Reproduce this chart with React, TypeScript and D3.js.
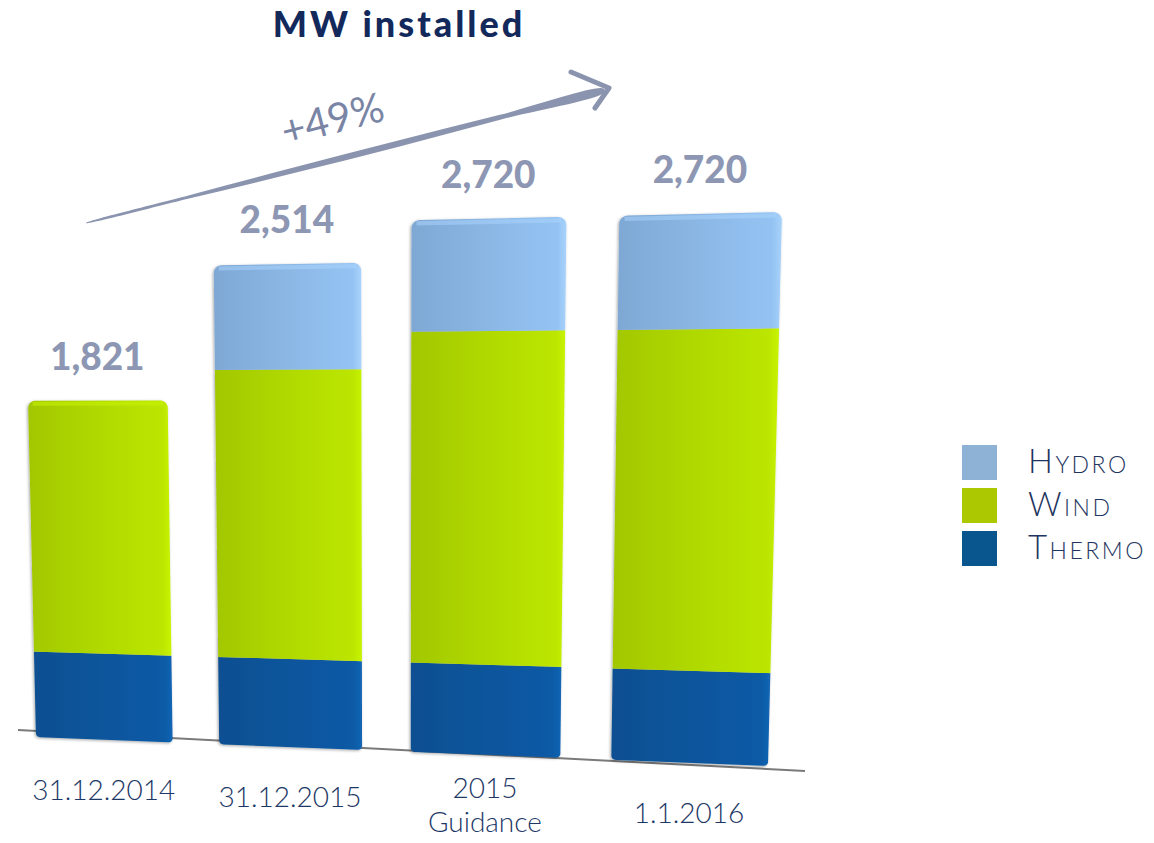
import { useEffect, useRef } from 'react'
import * as d3 from 'd3'

// data (MW installed)
const categories = ['31.12.2014', '31.12.2015', '2015 Guidance', '1.1.2016']
const seriesNames = ['Thermo', 'Wind', 'Hydro']
const thermo = [470, 470, 470, 470]
const wind = [1351, 1508, 1695, 1695]
const hydro = [0, 536, 555, 555]
const growthLabel = '+49%'

const colors: Record<string, string[]> = {
  // edge dark, left, mid, right, highlight
  Thermo: ['#063766', '#0b4f91', '#0b559c', '#0a5aa6', '#1467b5'],
  Wind: ['#6f8a00', '#a2c700', '#b0d900', '#bce600', '#c8f400'],
  Hydro: ['#5d82ad', '#7ea7d4', '#8bb7e5', '#94c3f3', '#a9d3fb'],
}
const legendColors: Record<string, string> = {
  Hydro: '#8db2d6',
  Wind: '#abc800',
  Thermo: '#09568f',
}

// solve a projective transform from 4 point pairs
function homography(src: number[][], dst: number[][]) {
  const A: number[][] = []
  const b: number[] = []
  for (let i = 0; i < 4; i++) {
    const [x, y] = src[i]
    const [X, Y] = dst[i]
    A.push([x, y, 1, 0, 0, 0, -x * X, -y * X]); b.push(X)
    A.push([0, 0, 0, x, y, 1, -x * Y, -y * Y]); b.push(Y)
  }
  const n = 8
  for (let c = 0; c < n; c++) {
    let p = c
    for (let r = c + 1; r < n; r++) if (Math.abs(A[r][c]) > Math.abs(A[p][c])) p = r
    const tA = A[c]; A[c] = A[p]; A[p] = tA
    const tb = b[c]; b[c] = b[p]; b[p] = tb
    for (let r = c + 1; r < n; r++) {
      const f = A[r][c] / A[c][c]
      for (let k = c; k < n; k++) A[r][k] -= f * A[c][k]
      b[r] -= f * b[c]
    }
  }
  const h = new Array(n).fill(0)
  for (let r = n - 1; r >= 0; r--) {
    let s = b[r]
    for (let k = r + 1; k < n; k++) s -= A[r][k] * h[k]
    h[r] = s / A[r][r]
  }
  return (x: number, y: number): [number, number] => {
    const w = h[6] * x + h[7] * y + 1
    return [(h[0] * x + h[1] * y + h[2]) / w, (h[3] * x + h[4] * y + h[5]) / w]
  }
}

export default function App() {
  const svgRef = useRef<SVGSVGElement>(null)

  useEffect(() => {
    if (!svgRef.current) return
    const width = 1154
    const height = 843

    const svg = d3.select(svgRef.current)
    svg.selectAll('*').remove()
    svg.attr('width', width).attr('height', height)

    const rows = categories.map((c, i) => ({ cat: c, Thermo: thermo[i], Wind: wind[i], Hydro: hydro[i] }))
    const stacked = d3.stack<any>().keys(seriesNames)(rows)
    const totals = rows.map(r => r.Thermo + r.Wind + r.Hydro)

    // flat chart plane in unit coordinates
    const x = d3.scaleBand().domain(categories).range([0, 1]).paddingInner(0.25).paddingOuter(0)
    const y = d3.scaleLinear().domain([0, d3.max(totals)!]).range([0, 1])

    // perspective of the plane on the page
    const project = homography(
      [[0, 0], [1, 0], [1, 1], [0, 1]],
      [[36, 737], [768, 766], [782, 212], [24, 229]],
    )
    const line = d3.line()

    const defs = svg.append('defs')
    seriesNames.forEach(s => {
      const c = colors[s]
      const g = defs.append('linearGradient').attr('id', `grad-${s}`)
        .attr('x1', 0).attr('x2', 1).attr('y1', 0).attr('y2', 0)
      const stops: [number, string][] = [[0, c[0]], [0.035, c[1]], [0.5, c[2]], [0.9, c[3]], [0.955, c[4]], [1, c[0]]]
      stops.forEach(([o, col]) => g.append('stop').attr('offset', o).attr('stop-color', col))
    })
    const shadow = defs.append('filter').attr('id', 'barShadow')
      .attr('x', '-10%').attr('y', '-10%').attr('width', '120%').attr('height', '120%')
    shadow.append('feDropShadow').attr('dx', -1).attr('dy', 1).attr('stdDeviation', 1.8)
      .attr('flood-color', '#000').attr('flood-opacity', 0.35)

    // baseline
    svg.append('line')
      .attr('x1', 18).attr('y1', 730).attr('x2', 805).attr('y2', 771)
      .attr('stroke', '#7a7a7a').attr('stroke-width', 2)

    // bars
    const rx = 0.011
    const ry = 0.014
    const rb = 0.006
    categories.forEach((cat, i) => {
      const x0 = x(cat)!
      const x1 = x0 + x.bandwidth()
      const top = y(totals[i])
      const pts: [number, number][] = []
      const arc = (cx: number, cy: number, ax: number, ay: number, a0: number, a1: number) => {
        for (let k = 0; k <= 8; k++) {
          const a = a0 + (a1 - a0) * k / 8
          pts.push(project(cx + ax * Math.cos(a), cy + ay * Math.sin(a)))
        }
      }
      arc(x0 + rb, rb * 1.3, rb, rb * 1.3, Math.PI, Math.PI * 1.5)
      arc(x1 - rb, rb * 1.3, rb, rb * 1.3, Math.PI * 1.5, Math.PI * 2)
      arc(x1 - rx, top - ry, rx, ry, 0, Math.PI / 2)
      arc(x0 + rx, top - ry, rx, ry, Math.PI / 2, Math.PI)
      const outline = line(pts) + 'Z'

      defs.append('clipPath').attr('id', `clip-${i}`).append('path').attr('d', outline)

      const bar = svg.append('g').attr('filter', 'url(#barShadow)')
      const inner = bar.append('g').attr('clip-path', `url(#clip-${i})`)
      stacked.forEach(layer => {
        const [v0, v1] = layer[i]
        if (v1 - v0 <= 0) return
        const quad = [
          project(x0 - 0.01, y(v0) - (v0 === 0 ? 0.01 : 0)),
          project(x1 + 0.01, y(v0) - (v0 === 0 ? 0.01 : 0)),
          project(x1 + 0.01, y(v1) + (v1 === totals[i] ? 0.01 : 0)),
          project(x0 - 0.01, y(v1) + (v1 === totals[i] ? 0.01 : 0)),
        ] as [number, number][]
        inner.append('path')
          .attr('d', line(quad) + 'Z')
          .attr('fill', `url(#grad-${layer.key})`)
      })
      // light bevel along the top
      const topKey = hydro[i] > 0 ? 'Hydro' : 'Wind'
      const bevel = [
        project(x0 + rx * 0.6, top - ry * 0.15),
        project(x1 - rx * 0.6, top - ry * 0.15),
        project(x1 - rx * 0.6, top - ry * 0.7),
        project(x0 + rx * 0.6, top - ry * 0.7),
      ] as [number, number][]
      inner.append('path').attr('d', line(bevel) + 'Z')
        .attr('fill', colors[topKey][4]).attr('opacity', 0.55)

      // value label above bar
      const [lx, ly] = project(x0 + x.bandwidth() / 2, top)
      svg.append('text')
        .attr('x', lx).attr('y', ly - 31)
        .attr('text-anchor', 'middle')
        .attr('font-family', 'Lato, sans-serif')
        .attr('font-weight', 900)
        .attr('font-size', 37)
        .attr('fill', '#8d97b3')
        .text(d3.format(',')(totals[i]))

      // category label below the baseline
      const [cx, cy] = project(x0 + x.bandwidth() / 2, 0)
      const lines = cat.split(' ')
      const lh = 34
      lines.forEach((t, k) => {
        svg.append('text')
          .attr('x', cx).attr('y', cy + 60 + (k - (lines.length - 1) / 2) * lh)
          .attr('text-anchor', 'middle')
          .attr('font-family', 'Lato, sans-serif')
          .attr('font-weight', 300)
          .attr('font-size', 28)
          .attr('fill', '#1d3866')
          .text(t)
      })
    })

    // title
    svg.append('text')
      .attr('x', 399).attr('y', 37)
      .attr('text-anchor', 'middle')
      .attr('font-family', 'Lato, sans-serif')
      .attr('font-weight', 900)
      .attr('font-size', 36)
      .attr('letter-spacing', 3)
      .attr('fill', '#13295b')
      .text('MW installed')

    // growth arrow
    const arrow = svg.append('g').attr('fill', '#8b94ae').attr('stroke', '#8b94ae')
    const ax0 = 86, ay0 = 223, ax1 = 604, ay1 = 90
    const ang = Math.atan2(ay1 - ay0, ax1 - ax0)
    const nx = -Math.sin(ang), ny = Math.cos(ang)
    const taper = [0.2, 2, 3.4, 3.8, 3, 2.4]
    const shaft: [number, number][] = []
    taper.forEach((w, k) => {
      const t = k / (taper.length - 1)
      shaft.push([ax0 + (ax1 - ax0) * t + nx * w, ay0 + (ay1 - ay0) * t + ny * w])
    })
    for (let k = taper.length - 1; k >= 0; k--) {
      const t = k / (taper.length - 1)
      shaft.push([ax0 + (ax1 - ax0) * t - nx * taper[k] * 0.6, ay0 + (ay1 - ay0) * t - ny * taper[k] * 0.6])
    }
    arrow.append('path').attr('d', d3.line().curve(d3.curveCatmullRomClosed)(shaft)).attr('stroke', 'none')
    arrow.append('path')
      .attr('d', `M571,72 L609,88 L595,108`)
      .attr('fill', 'none').attr('stroke-width', 5).attr('stroke-linecap', 'round').attr('stroke-linejoin', 'round')

    svg.append('text')
      .attr('transform', `translate(336,133) rotate(${(ang * 180) / Math.PI})`)
      .attr('text-anchor', 'middle')
      .attr('font-family', 'Lato, sans-serif')
      .attr('font-weight', 400)
      .attr('font-size', 41)
      .attr('fill', '#7a85a5')
      .text(growthLabel)

    // legend
    const legend = svg.append('g').attr('transform', 'translate(962,445)')
    const legendOrder = [...seriesNames].reverse()
    legendOrder.forEach((s, k) => {
      const g = legend.append('g').attr('transform', `translate(0,${k * 43})`)
      g.append('rect').attr('width', 35).attr('height', 35).attr('fill', legendColors[s])
      g.append('text')
        .attr('x', 66).attr('y', 28)
        .attr('font-family', 'Lato, sans-serif')
        .attr('font-weight', 300)
        .attr('font-size', 33)
        .attr('letter-spacing', 2.5)
        .attr('font-variant', 'small-caps')
        .attr('fill', '#1e3560')
        .text(s)
    })
  }, [])

  return (
    <svg ref={svgRef} style={{ position: 'absolute', left: 0, top: 0, background: '#fff' }}></svg>
  )
}
